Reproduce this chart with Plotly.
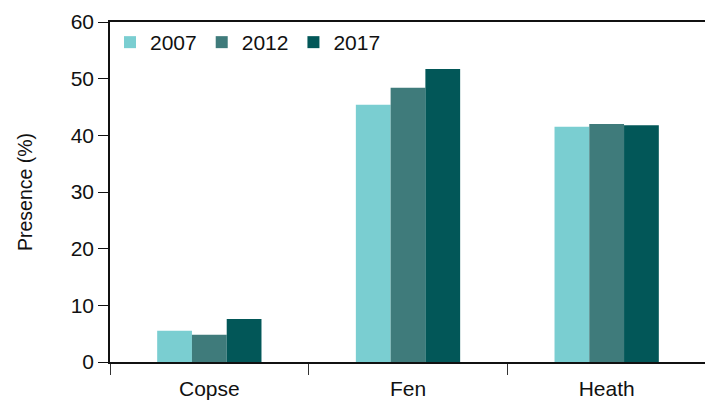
import plotly.graph_objects as go

habitats = ["Copse", "Fen", "Heath"]
years = ["2007", "2012", "2017"]
presence_2007 = [5.5, 45.4, 41.5]
presence_2012 = [4.8, 48.4, 42.0]
presence_2017 = [7.6, 51.7, 41.8]
colors = ["#7ACED1", "#3F7B7B", "#025758"]

fig = go.Figure()
for year, vals, col in zip(years, [presence_2007, presence_2012, presence_2017], colors):
    fig.add_trace(go.Bar(name=year, x=habitats, y=vals, marker_color=col, marker_line_width=0))

# page body adds an 8px offset, so the figure is sized to fit the window
fig.update_layout(
    width=705,
    height=392,
    barmode="group",
    bargap=0.475,
    bargroupgap=0,
    plot_bgcolor="white",
    paper_bgcolor="white",
    font=dict(family="Liberation Sans, Arial", size=21, color="#111111"),
    margin=dict(l=102, r=7, t=14, b=38),
    legend=dict(
        orientation="h",
        x=0.0,
        y=1.0,
        xanchor="left",
        yanchor="top",
        bgcolor="rgba(0,0,0,0)",
        font=dict(size=21),
        traceorder="normal",
    ),
)
fig.update_xaxes(
    tickson="boundaries",
    ticks="outside",
    ticklen=11,
    tickcolor="#333333",
    tickfont=dict(size=21),
    ticklabelstandoff=7,
    showline=True,
    linecolor="#111111",
    linewidth=1.5,
    mirror=True,
    showgrid=False,
    automargin=False,
)
fig.update_yaxes(
    title_text="Presence (%)",
    title_font=dict(size=19.5),
    title_standoff=33,
    range=[0, 60],
    dtick=10,
    ticks="outside",
    ticklen=10,
    tickcolor="#111111",
    tickfont=dict(size=21),
    showline=True,
    linecolor="#111111",
    linewidth=1.5,
    mirror=True,
    showgrid=False,
    zeroline=False,
    automargin=False,
)

fig.write_html("out.html")
